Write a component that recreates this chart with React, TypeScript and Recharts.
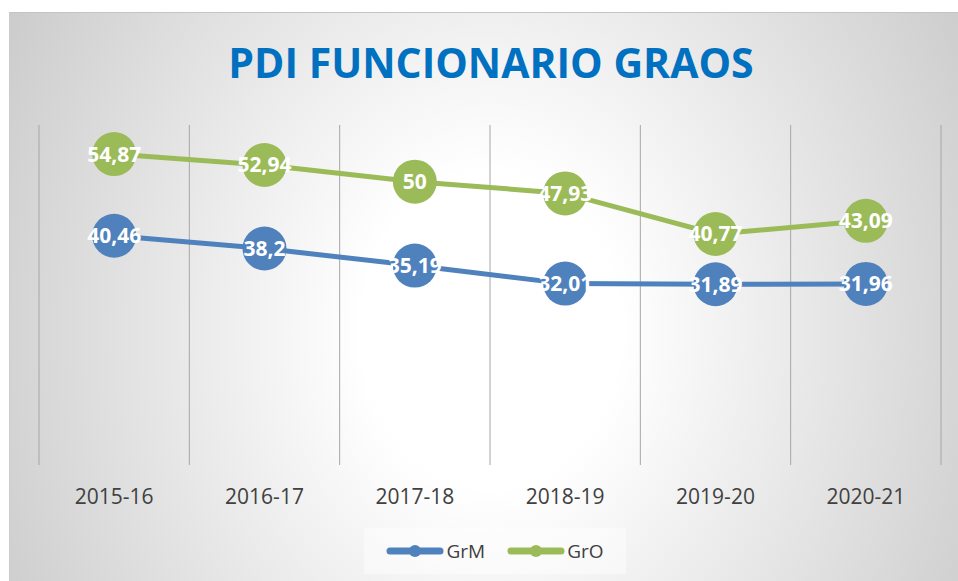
import React from "react";
import { LineChart, Line, XAxis, YAxis, CartesianGrid, LabelList, Legend } from "recharts";

const seasons = ["2015-16", "2016-17", "2017-18", "2018-19", "2019-20", "2020-21"];
const grm = [40.46, 38.2, 35.19, 32.01, 31.89, 31.96];
const gro = [54.87, 52.94, 50, 47.93, 40.77, 43.09];

const BLUE = "#4f81bd";
const GREEN = "#9bbb59";

// each season sits in the middle of its own slot, gridlines mark the slot edges
const data = seasons.map((s, i) => ({ pos: i + 0.5, season: s, GrM: grm[i], GrO: gro[i] }));
const slotEdges = [...seasons.map((_, i) => i), seasons.length];
const slotCenters = data.map((d) => d.pos);

const fmt = (v: any) => String(v).replace(".", ",");

const renderLegend = (props: any) => {
  const { payload } = props;
  return (
    <div
      style={{
        display: "flex",
        justifyContent: "center",
        alignItems: "center",
        height: 46,
        background: "rgba(255,255,255,0.45)",
      }}
    >
      {(payload || []).map((entry: any, i: number) => (
        <div key={i} style={{ display: "flex", alignItems: "center", marginRight: i === 0 ? 22 : 0 }}>
          <svg width={58} height={16} style={{ display: "block" }}>
            <line x1={4} y1={8} x2={54} y2={8} stroke={entry.color} strokeWidth={7} strokeLinecap="round" />
            <circle cx={29} cy={8} r={6} fill={entry.color} />
          </svg>
          <span style={{ fontSize: 19, color: "#404040", marginLeft: 2 }}>{entry.value}</span>
        </div>
      ))}
    </div>
  );
};

export default function App() {
  return (
    <div style={{ position: "absolute", left: 0, top: 0, width: 958, height: 581, fontFamily: "'Open Sans', sans-serif", background: "#fff" }}>
      {/* chart area background */}
      <div
        style={{
          position: "absolute",
          left: 9,
          top: 12,
          width: 949,
          height: 569,
          boxSizing: "border-box",
          borderTop: "1px solid #c4c4c4",
          borderLeft: "1px solid #cccccc",
          background: "radial-gradient(645px 789px at 481px 318px, #ffffff 20%, #c0c0c0 100%)",
        }}
      />
      <svg width={958} height={120} style={{ position: "absolute", left: 0, top: 0 }}>
        <text x={491} y={78} textAnchor="middle" fill="#0070c0" fontSize={41} fontWeight="bold" fontFamily="'Open Sans', sans-serif">
          PDI FUNCIONARIO GRAOS
        </text>
      </svg>
      <div style={{ position: "absolute", left: 0, top: 0 }}>
        <LineChart width={958} height={581} data={data} margin={{ top: 125, right: 17, bottom: 76, left: 39 }}>
          <XAxis xAxisId="grid" type="number" dataKey="pos" domain={[0, seasons.length]} ticks={slotEdges} height={0} hide />
          <XAxis
            xAxisId="main"
            type="number"
            dataKey="pos"
            domain={[0, seasons.length]}
            ticks={slotCenters}
            tickFormatter={(v: number) => seasons[Math.floor(v)]}
            axisLine={false}
            tickLine={false}
            tickSize={0}
            tickMargin={24}
            height={40}
            interval={0}
            tick={{ fill: "#404040", fontSize: 21, fontFamily: "'Open Sans', sans-serif" }}
          />
          <YAxis domain={[0, 60]} hide />
          <CartesianGrid xAxisId="grid" horizontal={false} stroke="#a6a6a6" strokeWidth={1} />
          <Legend
            layout="horizontal"
            verticalAlign="middle"
            align="center"
            content={renderLegend}
            wrapperStyle={{ top: 528, left: 364, width: 262, height: 46 }}
          />
          <Line
            xAxisId="main"
            dataKey="GrM"
            name="GrM"
            stroke={BLUE}
            strokeWidth={5}
            dot={{ r: 22, fill: BLUE, stroke: BLUE, strokeWidth: 0 }}
            activeDot={false}
            isAnimationActive={false}
          >
            <LabelList dataKey="GrM" position="center" formatter={fmt} fill="#ffffff" fontSize={21} fontWeight="bold" fontFamily="'Open Sans', sans-serif" />
          </Line>
          <Line
            xAxisId="main"
            dataKey="GrO"
            name="GrO"
            stroke={GREEN}
            strokeWidth={5}
            dot={{ r: 22, fill: GREEN, stroke: GREEN, strokeWidth: 0 }}
            activeDot={false}
            isAnimationActive={false}
          >
            <LabelList dataKey="GrO" position="center" formatter={fmt} fill="#ffffff" fontSize={21} fontWeight="bold" fontFamily="'Open Sans', sans-serif" />
          </Line>
        </LineChart>
      </div>
    </div>
  );
}
